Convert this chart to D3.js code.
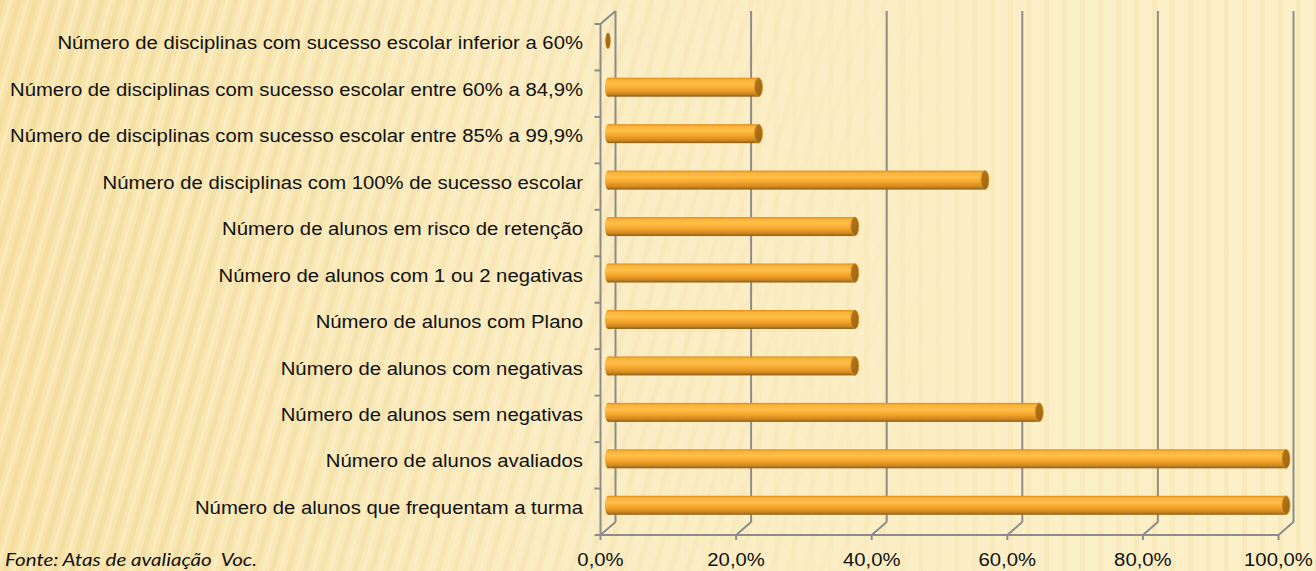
<!DOCTYPE html>
<html>
<head>
<meta charset="utf-8">
<script src="https://cdn.jsdelivr.net/npm/d3@7"></script>
<style>
  html, body { margin: 0; padding: 0; }
  body { width: 1316px; height: 571px; overflow: hidden; }
  .cat { font-family: "Liberation Sans", Arial, sans-serif; font-size: 17.5px; fill: #111; }
  .tick-label { font-family: "Liberation Sans", Arial, sans-serif; font-size: 17.5px; fill: #111; }
  .source { font-family: Lato, "Open Sans", sans-serif; font-style: italic; font-size: 18px; fill: #111; white-space: pre; }
  .grid { stroke: #8c8c8c; stroke-width: 2px; fill: none; }
</style>
</head>
<body>
<svg id="chart" width="1316" height="571"></svg>
<script>
  // categories from top to bottom, as in the picture
  const categories = [
    "Número de disciplinas com sucesso escolar inferior a 60%",
    "Número de disciplinas com sucesso escolar entre 60% a 84,9%",
    "Número de disciplinas com sucesso escolar entre 85% a 99,9%",
    "Número de disciplinas com 100% de sucesso escolar",
    "Número de alunos em risco de retenção",
    "Número de alunos com 1 ou 2 negativas",
    "Número de alunos com Plano",
    "Número de alunos com negativas ",
    "Número de alunos sem negativas ",
    "Número de alunos avaliados",
    "Número de alunos que frequentam a turma"
  ];
  const values = [0, 0.222, 0.222, 0.556, 0.364, 0.364, 0.364, 0.364, 0.636, 1.0, 1.0];
  const tickValues = [0, 0.2, 0.4, 0.6, 0.8, 1.0];
  const sourceText = "Fonte: Atas de avaliação  Voc.";

  const svg = d3.select('#chart');
  const W = 1316, H = 571;
  const depth = {dx: 15, dy: -13};

  const x = d3.scaleLinear().domain([0, 1]).range([600.5, 1278.5]);
  const y = d3.scaleBand().domain(categories).range([24, 535]).paddingInner(0).paddingOuter(0);
  const fmt = v => d3.format('.1f')(v * 100).replace('.', ',') + '%';

  const defs = svg.append('defs');

  // background: cream with slanted stripes on the left, straighter on the right
  const bgGrad = defs.append('linearGradient').attr('id', 'bgGrad')
    .attr('x1', 0).attr('y1', 0).attr('x2', 1).attr('y2', 0);
  bgGrad.append('stop').attr('offset', 0).attr('stop-color', '#f8e4aa');
  bgGrad.append('stop').attr('offset', 0.45).attr('stop-color', '#fbedc3');
  bgGrad.append('stop').attr('offset', 1).attr('stop-color', '#fcf0c9');

  const stripes = defs.append('pattern').attr('id', 'stripes')
    .attr('patternUnits', 'userSpaceOnUse').attr('width', 16).attr('height', 40)
    .attr('patternTransform', 'rotate(16)');
  stripes.append('rect').attr('width', 5).attr('height', 40).attr('fill', '#e9cf88').attr('opacity', 0.3);
  stripes.append('rect').attr('x', 9).attr('width', 3).attr('height', 40).attr('fill', '#fff6dc').attr('opacity', 0.4);

  const stripesV = defs.append('pattern').attr('id', 'stripesV')
    .attr('patternUnits', 'userSpaceOnUse').attr('width', 18).attr('height', 40);
  stripesV.append('rect').attr('width', 5).attr('height', 40).attr('fill', '#f0dca0').attr('opacity', 0.35);

  const fade = defs.append('linearGradient').attr('id', 'fade')
    .attr('x1', 0).attr('y1', 0).attr('x2', 1).attr('y2', 0);
  fade.append('stop').attr('offset', 0).attr('stop-color', '#fff').attr('stop-opacity', 1);
  fade.append('stop').attr('offset', 0.4).attr('stop-color', '#fff').attr('stop-opacity', 0.6);
  fade.append('stop').attr('offset', 0.75).attr('stop-color', '#fff').attr('stop-opacity', 0);
  const fadeMask = defs.append('mask').attr('id', 'fadeMask');
  fadeMask.append('rect').attr('width', W).attr('height', H).attr('fill', 'url(#fade)');
  const fadeR = defs.append('linearGradient').attr('id', 'fadeR')
    .attr('x1', 0).attr('y1', 0).attr('x2', 1).attr('y2', 0);
  fadeR.append('stop').attr('offset', 0.4).attr('stop-color', '#fff').attr('stop-opacity', 0);
  fadeR.append('stop').attr('offset', 1).attr('stop-color', '#fff').attr('stop-opacity', 1);
  const fadeMaskR = defs.append('mask').attr('id', 'fadeMaskR');
  fadeMaskR.append('rect').attr('width', W).attr('height', H).attr('fill', 'url(#fadeR)');

  svg.append('rect').attr('width', W).attr('height', H).attr('fill', 'url(#bgGrad)');
  svg.append('rect').attr('width', W).attr('height', H).attr('fill', 'url(#stripes)').attr('mask', 'url(#fadeMask)');
  svg.append('rect').attr('width', W).attr('height', H).attr('fill', 'url(#stripesV)').attr('mask', 'url(#fadeMaskR)');

  // cylinder shading
  const cyl = defs.append('linearGradient').attr('id', 'cyl')
    .attr('x1', 0).attr('y1', 0).attr('x2', 0).attr('y2', 1);
  [[0, '#d98f1c'], [0.12, '#fbb23a'], [0.35, '#ffc04a'], [0.6, '#f6a62c'], [0.85, '#d08820'], [1, '#8f5c12']]
    .forEach(([o, c]) => cyl.append('stop').attr('offset', o).attr('stop-color', c));
  const cap = defs.append('linearGradient').attr('id', 'cap')
    .attr('x1', 0).attr('y1', 0).attr('x2', 1).attr('y2', 1);
  cap.append('stop').attr('offset', 0).attr('stop-color', '#b87818');
  cap.append('stop').attr('offset', 1).attr('stop-color', '#9a6210');

  const [x0, x1] = x.range();
  const yTop = y.range()[0], yBot = y.range()[1];

  // back wall gridlines and floor diagonals
  const grid = svg.append('g');
  tickValues.forEach(v => {
    grid.append('line').attr('class', 'grid')
      .attr('x1', x(v) + depth.dx).attr('x2', x(v) + depth.dx)
      .attr('y1', yTop + depth.dy).attr('y2', yBot + depth.dy);
    grid.append('line').attr('class', 'grid')
      .attr('x1', x(v)).attr('y1', yBot + 5)
      .attr('x2', x(v)).attr('y2', yBot);
    grid.append('polyline').attr('class', 'grid')
      .attr('points', `${x(v)},${yBot} ${x(v) + depth.dx},${yBot + depth.dy}`);
  });
  // left side wall
  grid.append('polyline').attr('class', 'grid')
    .attr('points', `${x0},${yBot} ${x0},${yTop} ${x0 + depth.dx},${yTop + depth.dy}`);
  grid.append('line').attr('class', 'grid')
    .attr('x1', x0).attr('x2', x1).attr('y1', yBot).attr('y2', yBot);
  d3.range(categories.length + 1).forEach(i => {
    const yy = yTop + i * y.step();
    grid.append('line').attr('class', 'grid')
      .attr('x1', x0 - 6).attr('x2', x0).attr('y1', yy).attr('y2', yy);
  });

  // cylinders
  const barH = 19;
  const bars = svg.append('g').selectAll('g').data(categories).join('g')
    .attr('transform', (d) => `translate(${depth.dx / 2},${y(d) + y.bandwidth() / 2 + depth.dy / 2})`);
  bars.each(function(d, i) {
    const g = d3.select(this);
    const xs = x(0), xe = x(values[i]);
    if (values[i] > 0) {
      g.append('rect').attr('x', xs).attr('y', -barH / 2).attr('width', xe - xs).attr('height', barH)
        .attr('fill', 'url(#cyl)');
      g.append('ellipse').attr('cx', xs).attr('cy', 0).attr('rx', 3).attr('ry', barH / 2)
        .attr('fill', 'url(#cyl)');
      g.append('ellipse').attr('cx', xe).attr('cy', 0).attr('rx', 4).attr('ry', barH / 2)
        .attr('fill', 'url(#cap)').attr('stroke', '#d69624').attr('stroke-width', 0.8);
    } else {
      g.append('ellipse').attr('cx', xs).attr('cy', 0).attr('rx', 2.6).attr('ry', 8)
        .attr('fill', '#a96b14');
    }
  });

  // the original face (Franklin Gothic) is wider than Liberation Sans: stretch text a bit
  const widen = (sel, k) => sel.each(function() {
    const w = this.getComputedTextLength();
    d3.select(this).attr('textLength', w * k).attr('lengthAdjust', 'spacingAndGlyphs');
  });

  // category labels
  const catLabels = svg.append('g').selectAll('text').data(categories).join('text')
    .attr('class', 'cat')
    .attr('x', 583)
    .attr('y', d => y(d) + y.bandwidth() / 2 - 4)
    .attr('dy', '0.35em')
    .attr('text-anchor', 'end')
    .text(d => d);
  const longest = d3.max(catLabels.nodes(), n => n.getComputedTextLength());
  widen(catLabels, 573 / longest);

  // value axis labels
  const tickLabels = svg.append('g').selectAll('text').data(tickValues).join('text')
    .attr('class', 'tick-label')
    .attr('x', d => x(d))
    .attr('y', 566)
    .attr('text-anchor', 'middle')
    .text(fmt);
  widen(tickLabels, 573 / longest);

  const src = svg.append('text').attr('class', 'source').attr('x', 5).attr('y', 566)
    .attr('xml:space', 'preserve').text(sourceText);
  src.attr('textLength', 252).attr('lengthAdjust', 'spacingAndGlyphs');
</script>
</body>
</html>
